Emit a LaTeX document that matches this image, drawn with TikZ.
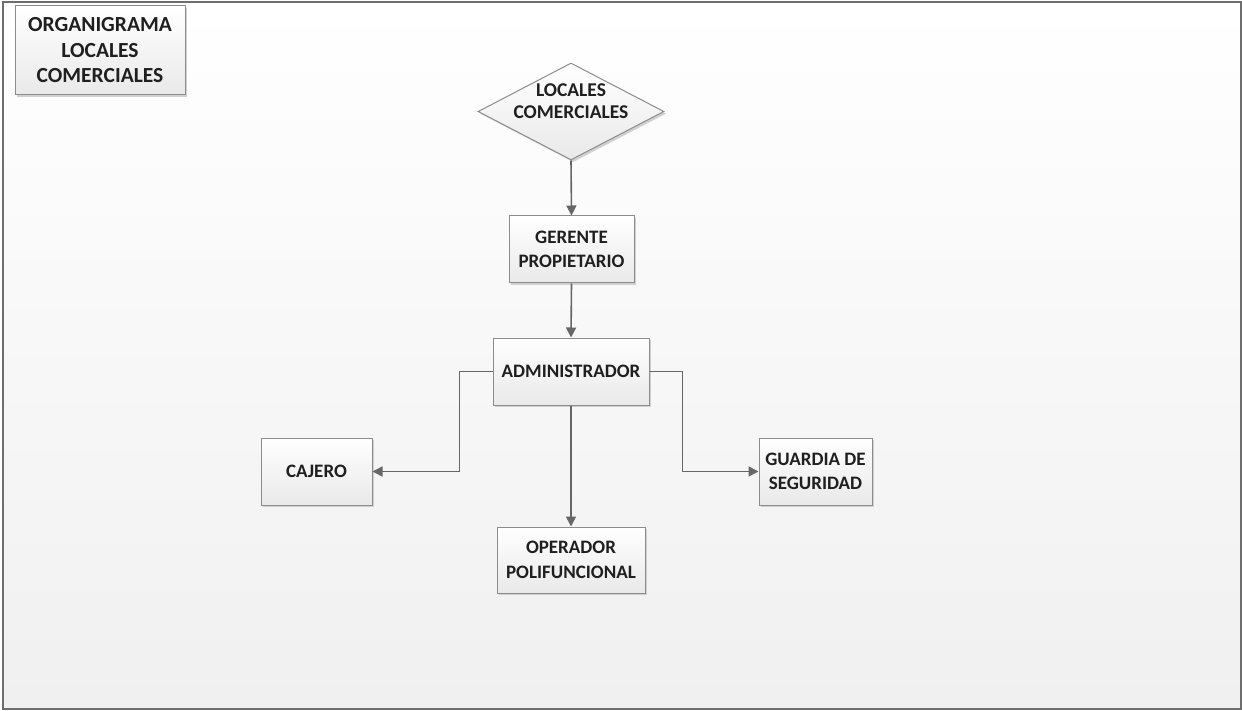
\documentclass[tikz,border=0pt]{standalone}
\usepackage{fontspec}
\setmainfont{Carlito}
\usetikzlibrary{shapes.geometric,arrows.meta,shadows}
\definecolor{framegray}{HTML}{6E6E6E}
\definecolor{boxline}{HTML}{8C8C8C}
\definecolor{linkgray}{HTML}{666666}
\definecolor{inkdark}{HTML}{1F1F1F}
\definecolor{pagebottom}{HTML}{EFF0EF}
\definecolor{boxbottom}{HTML}{E9E9E9}
\begin{document}
\begin{tikzpicture}[x=1pt,y=1pt,
  box/.style={draw=boxline, line width=1pt, rectangle, inner sep=0pt,
    top color=white, bottom color=boxbottom, text=inkdark,
    font=\fontsize{19}{24.5}\selectfont\bfseries, align=center,
    drop shadow={shadow xshift=2.2pt, shadow yshift=-2.2pt, fill=black!22, opacity=0.8}},
  link/.style={draw=linkgray, line width=1.6pt,
    -{Triangle[length=10pt,width=10pt]}}
]
% page area and outer frame
\useasboundingbox (0,0) rectangle (1242,-711);
\fill[white] (0,0) rectangle (1242,-711);
\shade[top color=white, bottom color=pagebottom] (3,-2) rectangle (1241,-709);
\draw[framegray, line width=1.5pt] (3,-2) rectangle (1241,-709);

% title
\node[box, minimum width=170pt, minimum height=89pt,
  font=\fontsize{21.5}{25.5}\selectfont\bfseries] (title) at (100,-50.5)
  {ORGANIGRAMA\\LOCALES\\COMERCIALES};

% top decision shape
\node[draw=boxline, line width=1pt, diamond, inner sep=0pt, aspect=1.9,
  minimum width=186pt, minimum height=97pt,
  top color=white, bottom color=boxbottom,
  drop shadow={shadow xshift=2.2pt, shadow yshift=-2.2pt, fill=black!22, opacity=0.8}]
  (locales) at (571,-111.5) {};
\node[text=inkdark, font=\fontsize{19.5}{22}\selectfont\bfseries, align=center]
  (localestxt) at (571,-101) {LOCALES\\COMERCIALES};

% staff boxes
\node[box, minimum width=125pt, minimum height=67pt] (gerente) at (571.5,-249.5)
  {GERENTE\\PROPIETARIO};
\node[box, minimum width=156pt, minimum height=67pt] (admin) at (571,-371.5)
  {ADMINISTRADOR};
\node[box, minimum width=111pt, minimum height=67pt] (cajero) at (316.5,-471.5)
  {CAJERO};
\node[box, minimum width=113pt, minimum height=67pt] (guardia) at (815.5,-471.5)
  {GUARDIA DE\\SEGURIDAD};
\node[box, minimum width=148pt, minimum height=66pt] (operador) at (571,-560)
  {OPERADOR\\POLIFUNCIONAL};

% connectors
\draw[link] (locales.south) -- (gerente.north);
\draw[link] (gerente.south) -- (admin.north);
\draw[link] (admin.south) -- (operador.north);
\draw[link] (admin.west) -- ++(-33,0) |- (cajero.east);
\draw[link] (admin.east) -- ++(33,0) |- (guardia.west);
\end{tikzpicture}
\end{document}
